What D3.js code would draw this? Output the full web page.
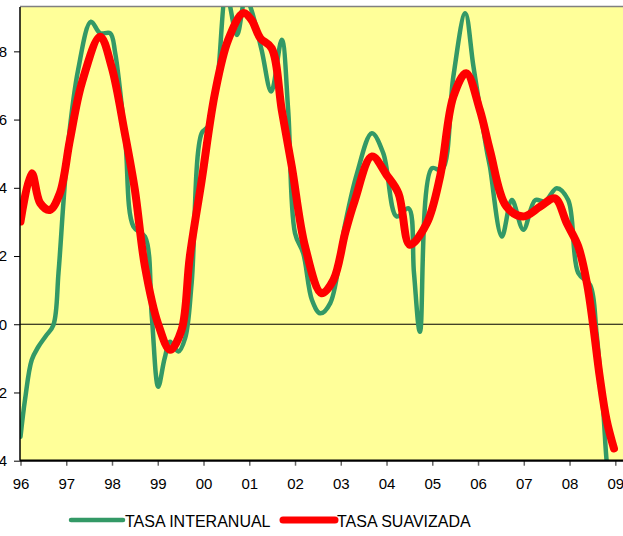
<!DOCTYPE html>
<meta charset="utf-8">
<head>
<style>
body { margin: 0; background: #fff; }
svg { display: block; font-family: "Liberation Sans", Arial, sans-serif; }
.axis text { font-size: 15px; fill: #000; }
.legend text { font-size: 16px; fill: #000; }
</style>
</head>
<body>
<script src="https://cdn.jsdelivr.net/npm/d3@7"></script>
<script>
// tasa interanual (fecha en años decimales, valor en %)
var fechasInter = [1996.0, 1996.1, 1996.245, 1996.39, 1996.55, 1996.72, 1996.83, 1996.94, 1997.05, 1997.26,
    1997.54, 1997.74, 1997.96, 1998.07, 1998.29, 1998.47, 1998.72, 1998.87, 1999.01, 1999.15,
    1999.27, 1999.45, 1999.6, 1999.74, 1999.96, 2000.1, 2000.29, 2000.5, 2000.73, 2000.92,
    2001.05, 2001.27, 2001.48, 2001.71, 2001.85, 2002.0, 2002.18, 2002.37, 2002.55, 2002.77,
    2003.09, 2003.35, 2003.68, 2003.93, 2004.22, 2004.48, 2004.6, 2004.73, 2004.99, 2005.21,
    2005.46, 2005.72, 2005.9, 2006.19, 2006.26, 2006.52, 2006.74, 2006.99, 2007.25, 2007.46,
    2007.72, 2007.97, 2008.19, 2008.45, 2008.59, 2008.74, 2008.81, 2008.9];
var valoresInter = [-3.3, -2.2, -1.05, -0.66, -0.35, -0.02, 1.5, 3.6, 5.4, 7.46,
    8.87, 8.53, 8.53, 7.95, 5.4, 2.86, 2.57, 0.22, -1.83, -1.0,
    -0.51, -0.8, -0.4, 1.2, 5.6, 5.8, 6.97, 9.7, 8.48, 9.6,
    9.2, 8.04, 6.82, 8.34, 6.28, 2.67, 2.08, 0.71, 0.32, 0.62,
    2.9, 4.4, 5.6, 5.01, 3.16, 3.4, 1.5, -0.22, 4.57, 4.52,
    7.26, 9.12, 7.55, 5.1, 4.62, 2.57, 3.64, 2.77, 3.64, 3.6,
    3.99, 3.64, 1.5, 1.15, -0.26, -2.6, -4.0, -5.0];

// tasa suavizada
var fechasSuav = [1996.0, 1996.245, 1996.43, 1996.64, 1996.86, 1997.08, 1997.34, 1997.74, 1997.99, 1998.28,
    1998.5, 1998.72, 1999.01, 1999.27, 1999.52, 1999.7, 1999.96, 2000.25, 2000.54, 2000.87,
    2001.05, 2001.24, 2001.49, 2001.71, 2001.93, 2002.22, 2002.58, 2002.84, 2003.1, 2003.3,
    2003.68, 2004.0, 2004.26, 2004.51, 2004.88, 2005.17, 2005.46, 2005.74, 2006.04, 2006.26,
    2006.62, 2006.99, 2007.36, 2007.68, 2007.94, 2008.19, 2008.38, 2008.52, 2008.66, 2008.81,
    2008.97];
var valoresSuav = [3.01, 4.43, 3.55, 3.35, 3.84, 5.4, 7.07, 8.43, 7.55, 5.6,
    3.94, 1.69, 0.0, -0.75, -0.17, 1.98, 4.22, 6.77, 8.34, 9.12,
    8.92, 8.39, 8.09, 6.28, 4.62, 2.28, 0.91, 1.3, 2.7, 3.6,
    4.92, 4.38, 3.84, 2.33, 2.96, 4.33, 6.67, 7.36, 6.28, 5.1,
    3.45, 3.16, 3.45, 3.69, 2.96, 2.28, 1.2, -0.07, -1.54, -2.81,
    -3.64];

var anios = [1996, 1997, 1998, 1999, 2000, 2001, 2002, 2003, 2004, 2005, 2006, 2007, 2008, 2009];
var ticksY = [-4, -2, 0, 2, 4, 6, 8];
var series = [
    { nombre: "TASA INTERANUAL", x: fechasInter, y: valoresInter, color: "#339966", ancho: 4.5 },
    { nombre: "TASA SUAVIZADA", x: fechasSuav, y: valoresSuav, color: "#ff0000", ancho: 8 }
];

var width = 623, height = 536;
var plotLeft = 20, plotTop = 7, plotBottom = 460.7;

var svg = d3.select("body").append("svg")
    .attr("width", width)
    .attr("height", height);

var x = d3.scaleLinear()
    .domain([1996, 2009])
    .range([20.5, 615.3]);

var y = d3.scaleLinear()
    .domain([-4, 9.3])
    .range([plotBottom, plotTop]);

// fondo amarillo del área de trazado
svg.append("rect")
    .attr("x", plotLeft)
    .attr("y", plotTop)
    .attr("width", width - plotLeft + 10)
    .attr("height", plotBottom - plotTop)
    .attr("fill", "#ffff99");

svg.append("line")
    .attr("x1", plotLeft).attr("x2", width)
    .attr("y1", plotTop - 0.5).attr("y2", plotTop - 0.5)
    .attr("stroke", "#808080")
    .attr("stroke-width", 1.5);

svg.append("clipPath")
    .attr("id", "clip")
    .append("rect")
    .attr("x", plotLeft)
    .attr("y", plotTop)
    .attr("width", width - plotLeft)
    .attr("height", plotBottom - plotTop);

// linea del cero
svg.append("line")
    .attr("x1", plotLeft).attr("x2", width)
    .attr("y1", y(0)).attr("y2", y(0))
    .attr("stroke", "#000")
    .attr("stroke-width", 1);

var line = d3.line()
    .x(d => x(d[0]))
    .y(d => y(d[1]))
    .curve(d3.curveCatmullRom.alpha(0.5));

series.forEach(function (s) {
    var pts = s.x.map((v, i) => [v, s.y[i]]);
    svg.append("path")
        .datum(pts)
        .attr("clip-path", "url(#clip)")
        .attr("fill", "none")
        .attr("stroke", s.color)
        .attr("stroke-width", s.ancho)
        .attr("stroke-linecap", "round")
        .attr("stroke-linejoin", "round")
        .attr("d", line);
});

var xAxis = d3.axisBottom(x)
    .tickValues(anios)
    .tickSize(5)
    .tickPadding(12.6)
    .tickFormat(d => String(d).slice(2));

var yAxis = d3.axisLeft(y)
    .tickValues(ticksY)
    .tickSize(6)
    .tickPadding(7)
    .tickFormat(d3.format("d"));

var gy = svg.append("g")
    .attr("class", "axis")
    .attr("transform", "translate(" + plotLeft + ",0)")
    .call(yAxis);
gy.select(".domain").remove();
gy.selectAll(".tick line").attr("stroke", "#000");
gy.append("line")
    .attr("x1", 0).attr("x2", 0)
    .attr("y1", plotTop).attr("y2", plotBottom)
    .attr("stroke", "#000")
    .attr("stroke-width", 1.5);

var gx = svg.append("g")
    .attr("class", "axis")
    .attr("transform", "translate(0," + plotBottom + ")")
    .call(xAxis);
gx.select(".domain").remove();
gx.selectAll(".tick line").attr("stroke", "#666").attr("stroke-width", 1.5);
gx.append("line")
    .attr("x1", plotLeft).attr("x2", width)
    .attr("y1", 0).attr("y2", 0)
    .attr("stroke", "#000")
    .attr("stroke-width", 2.2);

// leyenda
var legend = svg.append("g").attr("class", "legend");
var legX = [71, 283];
series.forEach(function (s, i) {
    legend.append("line")
        .attr("x1", legX[i]).attr("x2", legX[i] + 52)
        .attr("y1", 520).attr("y2", 520)
        .attr("stroke", s.color)
        .attr("stroke-width", i == 0 ? 4.5 : 7)
        .attr("stroke-linecap", "round");
    legend.append("text")
        .attr("x", legX[i] + 54)
        .attr("y", 527)
        .text(s.nombre);
});
</script>
</body>
